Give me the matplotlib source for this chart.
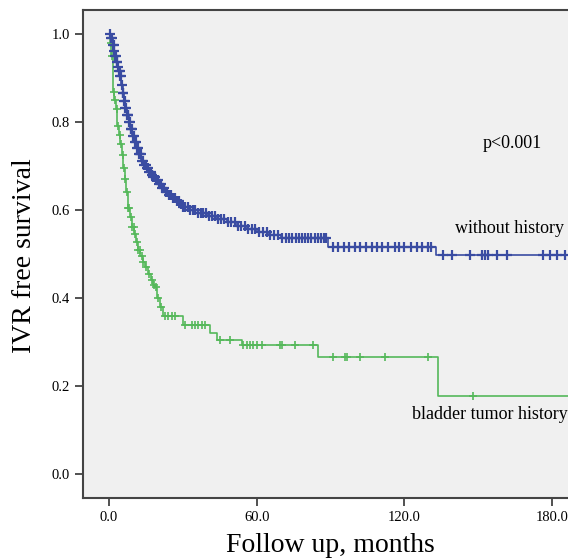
import numpy as np
import matplotlib.pyplot as plt

# Kaplan-Meier steps (time in months, survival)
blue_t = [0, 1.0, 1.5, 2.0, 2.5, 3.0, 3.5, 4.0, 4.5, 5.0, 5.5, 6.0, 6.5, 7.2, 8.0, 8.7,
          9.5, 10.2, 11, 12, 13, 14, 15, 16, 17, 18, 19, 20.2, 21.5, 22.7, 24, 25.5, 27,
          28.5, 30, 33, 36, 40, 44, 48, 52, 56, 60, 65, 70, 89, 133]
blue_s = [1.0, 0.99, 0.975, 0.962, 0.95, 0.937, 0.925, 0.915, 0.905, 0.885, 0.865, 0.848,
          0.832, 0.815, 0.80, 0.785, 0.768, 0.755, 0.742, 0.727, 0.712, 0.703, 0.695, 0.687,
          0.68, 0.674, 0.668, 0.659, 0.65, 0.642, 0.635, 0.627, 0.62, 0.613, 0.607, 0.6,
          0.594, 0.587, 0.58, 0.572, 0.564, 0.557, 0.55, 0.544, 0.536, 0.515, 0.498]
blue_censor = [0.6, 1.0, 1.3, 1.6, 1.9, 2.2, 2.5, 2.8, 3.1, 3.4, 3.7, 4.0, 4.3, 4.6, 4.9,
               5.2, 5.5, 5.8, 6.1, 6.4, 6.7, 7.0, 7.3, 7.6, 7.9, 8.2, 8.5, 8.8, 9.1, 9.4,
               9.7, 10.0, 10.4, 10.8, 11.2, 11.6, 12.0, 12.4, 12.9, 13.4, 13.9, 14.4, 14.9,
               15.4, 15.9, 16.4, 16.9, 17.5, 18.0, 18.6, 19.2, 19.8, 20.4, 21.0, 21.6,
               22.3, 23.0, 23.7, 24.4, 25.1, 25.9, 26.7, 27.5, 28.3, 29.2, 30.1, 31.0,
               32.0, 33.0, 34.0, 35.0, 36.1, 37.2, 38.3, 39.5, 40.6, 41.8, 43.0, 44.3,
               45.5, 46.8, 48.2, 49.5, 51.0, 52.4, 53.8, 55.1, 56.5, 58.0, 59.4, 61.0,
               62.4, 64.1, 65.6, 67.2, 68.8, 70.3, 71.8, 73.2, 74.5, 75.8, 77.0, 78.3,
               79.6, 80.8, 82.1, 83.5, 84.8, 86.0, 87.2, 88.3, 91, 93, 95.5, 97.5, 100,
               102, 104.5, 107, 109, 111, 113.5, 116, 118, 120, 122.5, 125, 127, 129.5,
               131, 135.7, 139.3, 146.6, 151.5, 152.7, 153.9, 157.6, 161.7, 176.3, 179.1,
               182, 185.2]

green_t = [0, 0.5, 1.0, 1.6, 2.2, 2.8, 3.4, 4.0, 4.6, 5.2, 5.8, 6.4, 7.0, 7.7, 8.5, 9.3,
           10.2, 11.0, 11.8, 12.8, 13.7, 14.6, 15.8, 17.0, 18.0, 18.7, 19.5, 20.7, 21.9,
           30, 41, 43.9, 54, 85, 133.6]
green_s = [1.0, 0.98, 0.95, 0.868, 0.85, 0.83, 0.79, 0.77, 0.75, 0.725, 0.695, 0.67, 0.64,
           0.605, 0.585, 0.561, 0.545, 0.528, 0.509, 0.495, 0.482, 0.47, 0.455, 0.44, 0.43,
           0.425, 0.40, 0.38, 0.36, 0.339, 0.32, 0.305, 0.293, 0.266, 0.177]
green_censor = [0.8, 1.3, 2.0, 2.6, 3.1, 3.7, 4.3, 4.9, 5.5, 6.1, 6.6, 7.2, 7.8, 8.3, 9.0,
                9.5, 10.0, 10.5, 11.2, 11.9, 12.5, 13.3, 14.0, 15.2, 16.3, 17.5, 18.3, 19.2,
                20.0, 21.0, 22.7, 24, 25.6, 26.8, 30.9, 33.7, 35, 36, 37.8, 39, 45, 49, 54.4,
                56, 57.3, 58.5, 60, 62, 69.5, 70.3, 75.6, 82.9, 91, 95.9, 96.7, 102, 112,
                129.6, 147.9]

x_ticks = [0, 60, 120, 180]
y_ticks = [0.0, 0.2, 0.4, 0.6, 0.8, 1.0]

blue = '#3a4ca2'
green = '#55b85a'
t_end = 200

plt.rcParams['font.family'] = ['Liberation Serif', 'DejaVu Serif']

fig = plt.figure(figsize=(5.68, 5.58), dpi=100)
ax = fig.add_axes([0.1461, 0.1075, 0.903, 0.8746])
ax.set_facecolor('#f0f0f0')


def step_value(times, surv, at):
    idx = np.searchsorted(times, at, side='right') - 1
    return np.array(surv)[idx]


ax.plot(green_t + [t_end], green_s + [green_s[-1]], drawstyle='steps-post', color=green, lw=1.2)
ax.plot(green_censor, step_value(green_t, green_s, green_censor), ls='none', marker='+',
        ms=6, mew=1.2, color=green)
ax.plot(blue_t + [t_end], blue_s + [blue_s[-1]], drawstyle='steps-post', color=blue, lw=1.2)
ax.plot(blue_censor, step_value(blue_t, blue_s, blue_censor), ls='none', marker='+',
        ms=7, mew=1.6, color=blue)

ax.set_xlim(-10.56, 197.8)
ax.set_ylim(-0.0545, 1.0545)
ax.set_xticks(x_ticks)
ax.set_xticklabels(['%.1f' % v for v in x_ticks])
ax.set_yticks(y_ticks)
ax.set_yticklabels(['%.1f' % v for v in y_ticks])
ax.tick_params(direction='out', length=6, width=1.2, labelsize=10.5, color='#333333')

for side in ['left', 'bottom', 'top']:
    ax.spines[side].set_color('#444444')
    ax.spines[side].set_linewidth(1.5)
ax.spines['right'].set_visible(False)

ax.text(164, 0.752, 'p<0.001', fontsize=13, ha='center', va='center')
ax.text(185, 0.557, 'without history', fontsize=13, ha='right', va='center')
ax.text(186.5, 0.136, 'bladder tumor history', fontsize=13, ha='right', va='center')

fig.text(25 / 568, 1 - 256 / 558, 'IVR free survival', fontsize=20, rotation=90,
         ha='center', va='center')
fig.text(330 / 568, 6 / 558, 'Follow up, months', fontsize=20, ha='center', va='baseline')

fig.savefig('out.png', dpi=100)
